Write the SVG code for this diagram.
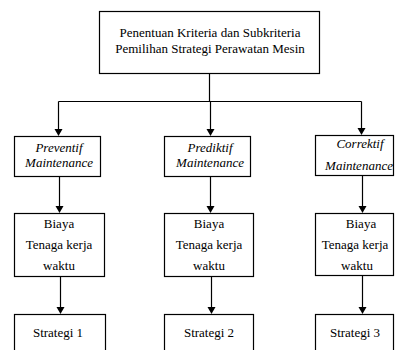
<svg xmlns="http://www.w3.org/2000/svg" width="395" height="350" viewBox="0 0 395 350" font-family="Liberation Serif">
<style>
.box{fill:#fff;stroke:#000;stroke-width:1.2}
text{font-size:13px;fill:#000;text-anchor:middle}
.i{font-style:italic}
.c{fill:none;stroke:#000;stroke-width:1.2}
</style>
<rect width="395" height="350" fill="#fff"/>
<g id="connectors">
<path class="c" d="M209.5,73 V101.5 M58.5,101.5 H361.5"/>
<path class="c" d="M58.5,101.5 V130"/><polygon points="54.5,129 62.5,129 58.5,136"/>
<path class="c" d="M210.5,101.5 V130"/><polygon points="206.5,129 214.5,129 210.5,136"/>
<path class="c" d="M361.5,101.5 V129"/><polygon points="357.5,128 365.5,128 361.5,135"/>
<path class="c" d="M59.5,176 V207"/><polygon points="55.5,206 63.5,206 59.5,213"/>
<path class="c" d="M210.5,176 V207"/><polygon points="206.5,206 214.5,206 210.5,213"/>
<path class="c" d="M362.5,175 V207"/><polygon points="358.5,206 366.5,206 362.5,213"/>
<path class="c" d="M60.5,277 V308"/><polygon points="56.5,307 64.5,307 60.5,314"/>
<path class="c" d="M211.5,277 V308"/><polygon points="207.5,307 215.5,307 211.5,314"/>
<path class="c" d="M362.5,276 V308"/><polygon points="358.5,307 366.5,307 362.5,314"/>
</g>
<g id="root">
<rect class="box" x="99.5" y="11.5" width="220" height="62"/>
<text x="210" y="37">Penentuan Kriteria dan Subkriteria</text>
<text x="210" y="53">Pemilihan Strategi Perawatan Mesin</text>
</g>
<g id="preventif">
<rect class="box" x="14.5" y="136.5" width="86" height="40"/>
<text class="i" x="59" y="152">Preventif</text>
<text class="i" x="59" y="167">Maintenance</text>
</g>
<g id="prediktif">
<rect class="box" x="164.5" y="136.5" width="86" height="40"/>
<text class="i" x="210" y="152">Prediktif</text>
<text class="i" x="210" y="167">Maintenance</text>
</g>
<g id="correktif">
<rect class="box" x="315.5" y="135.5" width="78" height="40"/>
<text class="i" x="360" y="148">Correktif</text>
<text class="i" x="359" y="170">Maintenance</text>
</g>
<g id="kriteria1">
<rect class="box" x="14.5" y="213.5" width="90" height="63"/>
<text x="59" y="228">Biaya</text>
<text x="59" y="249">Tenaga kerja</text>
<text x="59" y="270">waktu</text>
</g>
<g id="kriteria2">
<rect class="box" x="164.5" y="213.5" width="89" height="63"/>
<text x="209" y="228">Biaya</text>
<text x="209" y="249">Tenaga kerja</text>
<text x="209" y="270">waktu</text>
</g>
<g id="kriteria3">
<rect class="box" x="315.5" y="213.5" width="78" height="62"/>
<text x="361" y="228">Biaya</text>
<text x="355" y="249">Tenaga kerja</text>
<text x="357" y="270">waktu</text>
</g>
<g id="strategi1">
<rect class="box" x="14.5" y="314.5" width="91" height="50"/>
<text x="58" y="337">Strategi 1</text>
</g>
<g id="strategi2">
<rect class="box" x="164.5" y="314.5" width="89" height="50"/>
<text x="209" y="337">Strategi 2</text>
</g>
<g id="strategi3">
<rect class="box" x="315.5" y="314.5" width="78" height="50"/>
<text x="355" y="337">Strategi 3</text>
</g>
</svg>
